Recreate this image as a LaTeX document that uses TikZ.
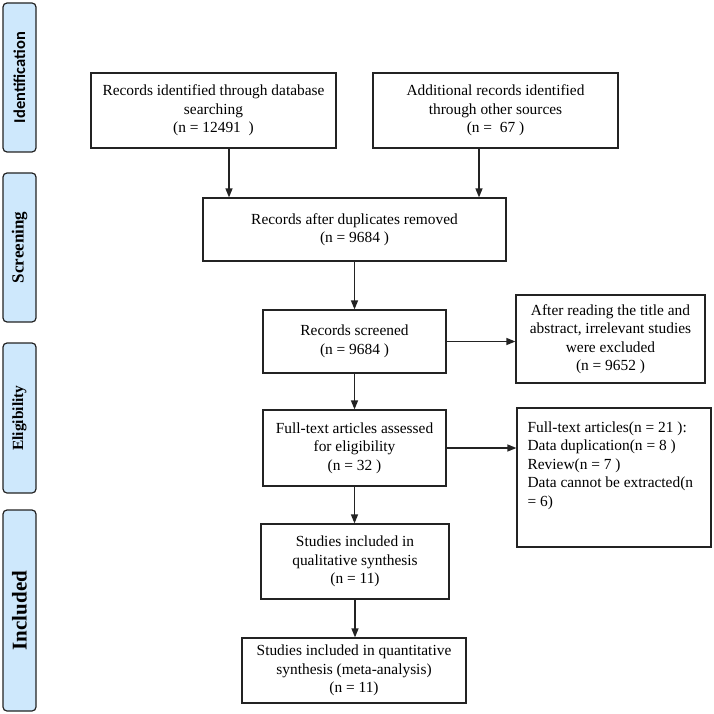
\documentclass[tikz,border=0pt]{standalone}
\usepackage{fontspec}
\setmainfont{Liberation Serif}
\newfontfamily\stagesans{Carlito}
\usetikzlibrary{arrows.meta}
\definecolor{stageblue}{RGB}{206,232,252}
\definecolor{boxline}{RGB}{35,35,35}

\begin{document}
\begin{tikzpicture}[x=1pt,y=-1pt,inner sep=0pt,
  box/.style={draw=boxline,line width=1.2pt,align=center,
    font=\fontsize{15.4}{18.5}\selectfont},
  stage/.style={draw=boxline,fill=stageblue,line width=1.2pt,
    rounded corners=4pt,rotate=90,minimum height=33pt},
  flow/.style={->,line width=1.3pt,draw=boxline},
  >={Triangle[length=9pt,width=7pt]}]

\useasboundingbox (0,0) rectangle (713,714);

% stage labels
\node[stage,minimum width=149pt,font=\stagesans\bfseries\fontsize{16.5}{16.5}\selectfont]
	(ident) at (19.5,77.5) {Identification};
\node[stage,minimum width=149pt,font=\bfseries\fontsize{17}{17}\selectfont]
	(screen) at (19.5,247.5) {Screening};
\node[stage,minimum width=150pt,font=\bfseries\fontsize{15.5}{15.5}\selectfont]
	(elig) at (19.5,418) {Eligibility};
\node[stage,minimum width=201pt,font=\bfseries\fontsize{21}{21}\selectfont]
	(incl) at (19.5,610.5) {Included};

% flow boxes
\node[box,minimum width=245pt,minimum height=75pt] (db) at (213.5,110.5)
	{Records identified through database\\ searching\\ (n = 12491\ \ )};
\node[box,minimum width=245pt,minimum height=75pt] (other) at (495.5,110.5)
	{Additional records identified\\ through other sources\\ (n =\ \ 67\ )};
\node[box,minimum width=303pt,minimum height=63pt] (dup) at (354.5,229.5)
	{Records after duplicates removed\\ (n = 9684\ )};
\node[box,minimum width=183pt,minimum height=63pt] (scr) at (354.5,341.5)
	{Records screened\\ (n = 9684\ )};
\node[box,minimum width=189pt,minimum height=88pt] (excla) at (610.5,339)
	{After reading the title and\\ abstract, irrelevant studies\\ were excluded\\ (n = 9652\ )};
\node[box,minimum width=183pt,minimum height=76pt] (ft) at (354.5,448)
	{Full-text articles assessed\\ for eligibility\\ (n = 32\ )};
\node[box,minimum width=194pt,minimum height=139pt] (exclb) at (614,477.5) {};
\node[box,draw=none,align=left,anchor=north west] (exclbtext) at (527,421)
	{Full-text articles(n = 21\ ):\\ Data duplication(n = 8\ )\\ Review(n = 7\ )\\
	 Data cannot be extracted(n\\ = 6)};
\node[box,minimum width=188pt,minimum height=75pt] (qual) at (355,561.5)
	{Studies included in\\ qualitative synthesis\\ (n = 11)};
\node[box,minimum width=224pt,minimum height=65pt] (quant) at (354,670.5)
	{Studies included in quantitative\\ synthesis (meta-analysis)\\ (n = 11)};

% connectors
\draw[flow] ([xshift=15.5pt]db.south) -- ([xshift=15.5pt]db.south |- dup.north);
\draw[flow] ([xshift=-16.5pt]other.south) -- ([xshift=-16.5pt]other.south |- dup.north);
\draw[flow] (dup.south) -- (scr.north);
\draw[flow] (scr.east) -- (scr.east -| excla.west);
\draw[flow] (scr.south) -- (ft.north);
\draw[flow] (ft.east) -- (ft.east -| exclb.west);
\draw[flow] (ft.south) -- (ft.south |- qual.north);
\draw[flow] (qual.south) -- (qual.south |- quant.north);

\end{tikzpicture}
\end{document}
